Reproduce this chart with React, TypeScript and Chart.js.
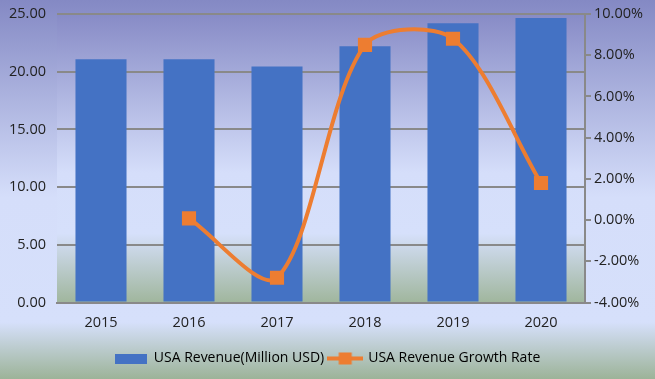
import React, { useEffect, useRef } from "react";
import { Chart, registerables } from "chart.js";

Chart.register(...registerables);

const categories = ["2015", "2016", "2017", "2018", "2019", "2020"];
const revenue = [21.07, 21.07, 20.45, 22.2, 24.2, 24.65];
const growthRate = [null, 0.08, -2.8, 8.5, 8.8, 1.8];
const revenueLabel = "USA Revenue(Million USD)";
const growthLabel = "USA Revenue Growth Rate";

const BLUE = "#4472C4";
const ORANGE = "#ED7D31";
const GRID = "#898989";
const TEXT = "#222222";
const FONT = { family: "'Open Sans', sans-serif", size: 14.5 };
const LEGEND_FONT = { family: "'Open Sans', sans-serif", size: 14 };

function makeBarIcon() {
  const c = document.createElement("canvas");
  c.width = 32;
  c.height = 10;
  const ctx = c.getContext("2d")!;
  ctx.fillStyle = BLUE;
  ctx.fillRect(0, 0, 32, 10);
  return c;
}

function makeLineIcon() {
  const c = document.createElement("canvas");
  c.width = 36;
  c.height = 13;
  const ctx = c.getContext("2d")!;
  ctx.fillStyle = ORANGE;
  ctx.fillRect(0, 4.5, 36, 4);
  ctx.fillRect(11.5, 0.5, 13, 12);
  return c;
}

const bgPlugin = {
  id: "bgGradients",
  beforeDraw(chart: any) {
    const { ctx, width, height, chartArea } = chart;
    ctx.save();
    const g = ctx.createLinearGradient(0, 0, 0, height);
    g.addColorStop(0, "#8489c4");
    g.addColorStop(0.52, "#d5defa");
    g.addColorStop(0.85, "#d6e0fb");
    g.addColorStop(1, "#9cb398");
    ctx.fillStyle = g;
    ctx.fillRect(0, 0, width, height);
    const { left, top, right, bottom } = chartArea;
    const g2 = ctx.createLinearGradient(0, top, 0, bottom);
    g2.addColorStop(0, "#878bc6");
    g2.addColorStop(0.55, "#d5defa");
    g2.addColorStop(0.76, "#d6e0fb");
    g2.addColorStop(1, "#a0b69d");
    ctx.fillStyle = g2;
    ctx.fillRect(left, top, right - left, bottom - top);
    ctx.restore();
  },
};

export default function App() {
  const ref = useRef<HTMLCanvasElement>(null);

  useEffect(() => {
    const barIcon = makeBarIcon();
    const lineIcon = makeLineIcon();
    const chart = new Chart(ref.current!, {
      type: "bar",
      data: {
        labels: categories,
        datasets: [
          {
            type: "bar",
            label: revenueLabel,
            data: revenue,
            backgroundColor: BLUE,
            yAxisID: "y",
            order: 2,
            categoryPercentage: 1,
            barPercentage: 0.58,
          },
          {
            type: "line",
            label: growthLabel,
            data: growthRate as any,
            borderColor: ORANGE,
            backgroundColor: ORANGE,
            borderWidth: 4,
            tension: 0.3,
            pointStyle: "rect",
            pointRadius: 10,
            pointBorderWidth: 0,
            pointBackgroundColor: ORANGE,
            yAxisID: "y1",
            order: 1,
          } as any,
        ],
      },
      options: {
        animation: false,
        responsive: false,
        devicePixelRatio: 1,
        layout: { padding: { top: 14, bottom: 3.5, left: 0, right: 0 } },
        plugins: {
          tooltip: { enabled: false },
          legend: {
            position: "bottom",
            labels: {
              usePointStyle: true,
              pointStyleWidth: 32,
              padding: 5,
              color: TEXT,
              font: LEGEND_FONT,
              generateLabels: () => [
                {
                  text: revenueLabel,
                  pointStyle: barIcon,
                  fillStyle: BLUE,
                  strokeStyle: BLUE,
                  lineWidth: 0,
                  hidden: false,
                  datasetIndex: 0,
                },
                {
                  text: growthLabel,
                  pointStyle: lineIcon,
                  fillStyle: ORANGE,
                  strokeStyle: ORANGE,
                  lineWidth: 0,
                  hidden: false,
                  datasetIndex: 1,
                },
              ],
            },
          } as any,
        },
        scales: {
          x: {
            grid: { display: false },
            border: { display: true, color: GRID, width: 2 },
            ticks: { color: TEXT, font: FONT, padding: 4 },
            afterFit: (s: any) => {
              s.height = 44;
            },
          },
          y: {
            position: "left",
            min: 0,
            max: 25,
            ticks: {
              stepSize: 5,
              color: TEXT,
              font: FONT,
              padding: 11,
              callback: (v: any) => Number(v).toFixed(2),
            },
            grid: { color: GRID, lineWidth: 2, drawTicks: false },
            border: { display: false },
            afterFit: (s: any) => {
              s.width = 57;
              s.paddingTop = 0;
              s.paddingBottom = 0;
            },
          },
          y1: {
            position: "right",
            min: -4,
            max: 10,
            ticks: {
              stepSize: 2,
              color: TEXT,
              font: FONT,
              padding: 3,
              callback: (v: any) => Number(v).toFixed(2) + "%",
            },
            grid: {
              drawOnChartArea: false,
              color: GRID,
              lineWidth: 2,
              tickLength: 6,
            },
            border: { display: true, color: GRID, width: 2 },
            afterFit: (s: any) => {
              s.width = 70;
              s.paddingTop = 0;
              s.paddingBottom = 0;
            },
          },
        },
      },
      plugins: [bgPlugin],
    } as any);
    return () => chart.destroy();
  }, []);

  return (
    <div style={{ position: "absolute", left: 0, top: 0, width: 655, height: 379 }}>
      <canvas ref={ref} width={655} height={379} />
    </div>
  );
}
